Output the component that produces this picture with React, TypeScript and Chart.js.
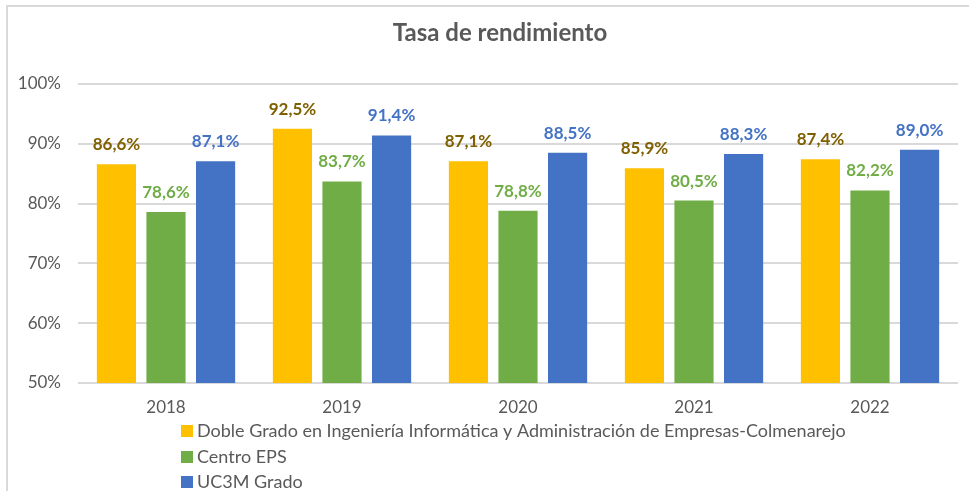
import React, { useEffect, useRef } from "react";
import { Chart, registerables } from "chart.js";

Chart.register(...registerables);

const TITLE = "Tasa de rendimiento";
const YEARS = ["2018", "2019", "2020", "2021", "2022"];
const SERIES_NAMES = [
  "Doble Grado en Ingeniería Informática y Administración de Empresas-Colmenarejo",
  "Centro EPS",
  "UC3M Grado",
];
const DOBLE_GRADO = [86.6, 92.5, 87.1, 85.9, 87.4];
const CENTRO_EPS = [78.6, 83.7, 78.8, 80.5, 82.2];
const UC3M_GRADO = [87.1, 91.4, 88.5, 88.3, 89.0];
const BAR_COLORS = ["#FFC000", "#70AD47", "#4472C4"];
const LABEL_COLORS = ["#7F6000", "#70AD47", "#4472C4"];
const Y_TICKS = [50, 60, 70, 80, 90, 100];

const FONT = "Lato, 'Open Sans', sans-serif";

const decorPlugin = {
  id: "decor",
  beforeDraw(chart: any) {
    const ctx = chart.ctx;
    ctx.save();
    ctx.fillStyle = "#ffffff";
    ctx.fillRect(0, 0, chart.width, chart.height);
    ctx.strokeStyle = "#D9D9D9";
    ctx.lineWidth = 2;
    ctx.beginPath();
    ctx.moveTo(7, chart.height);
    ctx.lineTo(7, 6);
    ctx.lineTo(chart.width, 6);
    ctx.stroke();
    ctx.restore();
  },
  afterDraw(chart: any) {
    const ctx = chart.ctx;
    ctx.save();
    // title
    ctx.font = `bold 24px ${FONT}`;
    ctx.fillStyle = "#595959";
    ctx.textAlign = "center";
    ctx.textBaseline = "middle";
    ctx.fillText(TITLE, 500, 33);
    // data labels
    ctx.font = `bold 17px ${FONT}`;
    ctx.textBaseline = "alphabetic";
    chart.data.datasets.forEach((ds: any, i: number) => {
      const meta = chart.getDatasetMeta(i);
      ctx.fillStyle = LABEL_COLORS[i];
      meta.data.forEach((bar: any, j: number) => {
        const v = ds.data[j];
        const txt = v.toFixed(1).replace(".", ",") + "%";
        ctx.fillText(txt, bar.x, bar.y - 14);
      });
    });
    // legend
    ctx.font = `18px ${FONT}`;
    ctx.textAlign = "left";
    ctx.textBaseline = "middle";
    const rows = [431, 457, 482];
    chart.data.datasets.forEach((ds: any, i: number) => {
      ctx.fillStyle = BAR_COLORS[i];
      ctx.fillRect(181, rows[i] - 6, 12, 12);
      ctx.fillStyle = "#595959";
      ctx.fillText(ds.label, 197, rows[i]);
    });
    ctx.restore();
  },
};

export default function App() {
  const ref = useRef<HTMLCanvasElement | null>(null);
  useEffect(() => {
    document.body.style.margin = "0";
    const mk = (i: number, data: number[]) => ({
      label: SERIES_NAMES[i],
      data,
      backgroundColor: BAR_COLORS[i],
      borderColor: BAR_COLORS[i],
      borderWidth: 0,
      categoryPercentage: 0.845,
      barPercentage: 0.79,
    });
    const chart = new Chart(ref.current as HTMLCanvasElement, {
      type: "bar",
      data: {
        labels: YEARS,
        datasets: [mk(0, DOBLE_GRADO), mk(1, CENTRO_EPS), mk(2, UC3M_GRADO)],
      },
      options: {
        responsive: false,
        animation: false,
        layout: { padding: { left: 0, right: 11, top: 84, bottom: 68 } },
        plugins: {
          legend: { display: false },
          title: { display: false },
          tooltip: { enabled: false },
        },
        scales: {
          x: {
            grid: { display: false, drawTicks: false },
            border: { display: false },
            ticks: {
              color: "#595959",
              font: { family: FONT, size: 17 },
              padding: 14,
            },
            afterFit(scale: any) {
              scale.height = 40;
            },
          },
          y: {
            min: 50,
            max: 100,
            afterBuildTicks(scale: any) {
              scale.ticks = Y_TICKS.map((v) => ({ value: v }));
            },
            grid: { color: "#D9D9D9", lineWidth: 2, drawTicks: false },
            border: { display: false },
            ticks: {
              color: "#595959",
              font: { family: FONT, size: 17 },
              padding: 17,
              callback: (v: any) => `${v}%`,
            },
            afterFit(scale: any) {
              scale.width = 78;
            },
          },
        },
      },
      plugins: [decorPlugin],
    });
    return () => chart.destroy();
  }, []);
  return (
    <div style={{ position: "relative", width: 969, height: 491 }}>
      <canvas ref={ref} width={969} height={491} style={{ display: "block" }} />
    </div>
  );
}
